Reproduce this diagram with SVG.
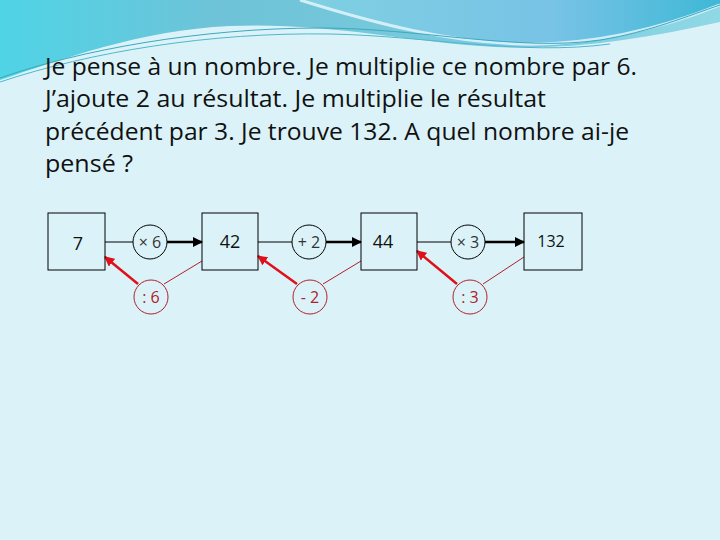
<svg xmlns="http://www.w3.org/2000/svg" width="720" height="540" viewBox="0 0 720 540">
<defs>
<linearGradient id="bg1" x1="0" y1="0" x2="1" y2="0">
<stop offset="0" stop-color="#4fd4e6"/>
<stop offset="0.3" stop-color="#6ec3d8"/>
<stop offset="0.7" stop-color="#7ccbdc"/>
<stop offset="1" stop-color="#8fd8e6"/>
</linearGradient>
<linearGradient id="bg2" x1="0" y1="0" x2="1" y2="0">
<stop offset="0" stop-color="#7fd0e2"/>
<stop offset="0.6" stop-color="#78c3e6"/>
<stop offset="1" stop-color="#3fb8d6"/>
</linearGradient>
<marker id="ab" viewBox="0 0 10 10" refX="9" refY="5" markerWidth="4" markerHeight="4" orient="auto" markerUnits="strokeWidth">
<path d="M0,0 L10,5 L0,10 z" fill="#000"/>
</marker>
<marker id="ar" viewBox="0 0 10 10" refX="9" refY="5" markerWidth="4" markerHeight="4" orient="auto" markerUnits="strokeWidth">
<path d="M0,0 L10,5 L0,10 z" fill="#e0101a"/>
</marker>
</defs>
<style>
.t{font-family:"Open Sans","Liberation Sans",sans-serif;font-size:23px;fill:#111}
.box{fill:none;stroke:#000;stroke-width:1}
.bt{font-family:"Open Sans","Liberation Sans",sans-serif;font-size:18px;fill:#111;text-anchor:middle}
.op{fill:none;stroke:#000;stroke-width:1}
.ot{font-family:"Open Sans","Liberation Sans",sans-serif;font-size:16px;fill:#333;text-anchor:middle}
.rop{fill:none;stroke:#b0202a;stroke-width:1}
.rt{font-family:"Open Sans","Liberation Sans",sans-serif;font-size:16px;fill:#b0202a;text-anchor:middle}
</style>
<rect width="720" height="540" fill="#dbf3f8"/>
<path d="M0,0 H720 V22 C640,40 560,52 480,46 C400,40 320,22 230,26 C140,30 60,60 0,80 Z" fill="url(#bg1)"/>
<path d="M300,0 H720 V5 C650,35 580,50 500,46 C430,42 360,20 300,0 Z" fill="url(#bg2)"/>
<path d="M300,0 C380,25 450,42 520,44 C600,46 670,25 720,5" fill="none" stroke="#e8f8fc" stroke-width="3" opacity="0.8"/>
<path d="M0,78 C80,50 200,28 320,28 C420,28 520,52 600,40 C650,32 690,15 720,5" fill="none" stroke="#3aa9bf" stroke-width="1"/>
<path d="M0,82 C90,52 210,32 330,34 C430,36 520,56 610,44" fill="none" stroke="#4fb8cc" stroke-width="1"/>
<g id="question">
<text class="t" x="45" y="75" textLength="592" lengthAdjust="spacingAndGlyphs">Je pense à un nombre. Je multiplie ce nombre par 6.</text>
<text class="t" x="45" y="107" textLength="501" lengthAdjust="spacingAndGlyphs">J’ajoute 2 au résultat. Je multiplie le résultat</text>
<text class="t" x="45" y="140" textLength="584" lengthAdjust="spacingAndGlyphs">précédent par 3. Je trouve 132. A quel nombre ai-je</text>
<text class="t" x="45" y="172" textLength="88" lengthAdjust="spacingAndGlyphs">pensé ?</text>
</g>
<g id="connectors">
<line x1="105" y1="242" x2="133" y2="242" stroke="#000" stroke-width="1"/>
<line x1="167" y1="242" x2="202" y2="242" stroke="#000" stroke-width="2.5" marker-end="url(#ab)"/>
<line x1="258" y1="242" x2="292" y2="242" stroke="#000" stroke-width="1"/>
<line x1="326" y1="242" x2="361" y2="242" stroke="#000" stroke-width="2.5" marker-end="url(#ab)"/>
<line x1="417" y1="242" x2="451" y2="242" stroke="#000" stroke-width="1"/>
<line x1="485" y1="242" x2="524" y2="242" stroke="#000" stroke-width="2.5" marker-end="url(#ab)"/>
<line x1="138" y1="284" x2="105" y2="257" stroke="#e0101a" stroke-width="2.5" marker-end="url(#ar)"/>
<line x1="164" y1="284" x2="202" y2="261" stroke="#b0202a" stroke-width="1"/>
<line x1="297" y1="284" x2="258" y2="256" stroke="#e0101a" stroke-width="2.5" marker-end="url(#ar)"/>
<line x1="323" y1="284" x2="361" y2="261" stroke="#b0202a" stroke-width="1"/>
<line x1="457" y1="284" x2="417" y2="251" stroke="#e0101a" stroke-width="2.5" marker-end="url(#ar)"/>
<line x1="483" y1="284" x2="524" y2="257" stroke="#b0202a" stroke-width="1"/>
</g>
<g id="n7"><rect class="box" x="48" y="213" width="57" height="57"/><text class="bt" x="78" y="250">7</text></g>
<g id="n42"><rect class="box" x="202" y="213" width="56" height="57"/><text class="bt" x="230" y="248">42</text></g>
<g id="n44"><rect class="box" x="361" y="213" width="56" height="57"/><text class="bt" x="383" y="248">44</text></g>
<g id="n132"><rect class="box" x="524" y="213" width="58" height="57"/><text class="bt" x="551" y="247" style="font-size:16px">132</text></g>
<g id="op1"><circle class="op" cx="150" cy="242" r="17"/><text class="ot" x="150" y="248">× 6</text></g>
<g id="op2"><circle class="op" cx="309" cy="242" r="17"/><text class="ot" x="309" y="248">+ 2</text></g>
<g id="op3"><circle class="op" cx="468" cy="242" r="17"/><text class="ot" x="468" y="248">× 3</text></g>
<g id="rop1"><circle class="rop" cx="151" cy="297" r="17"/><text class="rt" x="151" y="303">: 6</text></g>
<g id="rop2"><circle class="rop" cx="310" cy="297" r="17"/><text class="rt" x="310" y="303">- 2</text></g>
<g id="rop3"><circle class="rop" cx="470" cy="297" r="17"/><text class="rt" x="470" y="303">: 3</text></g>
</svg>
